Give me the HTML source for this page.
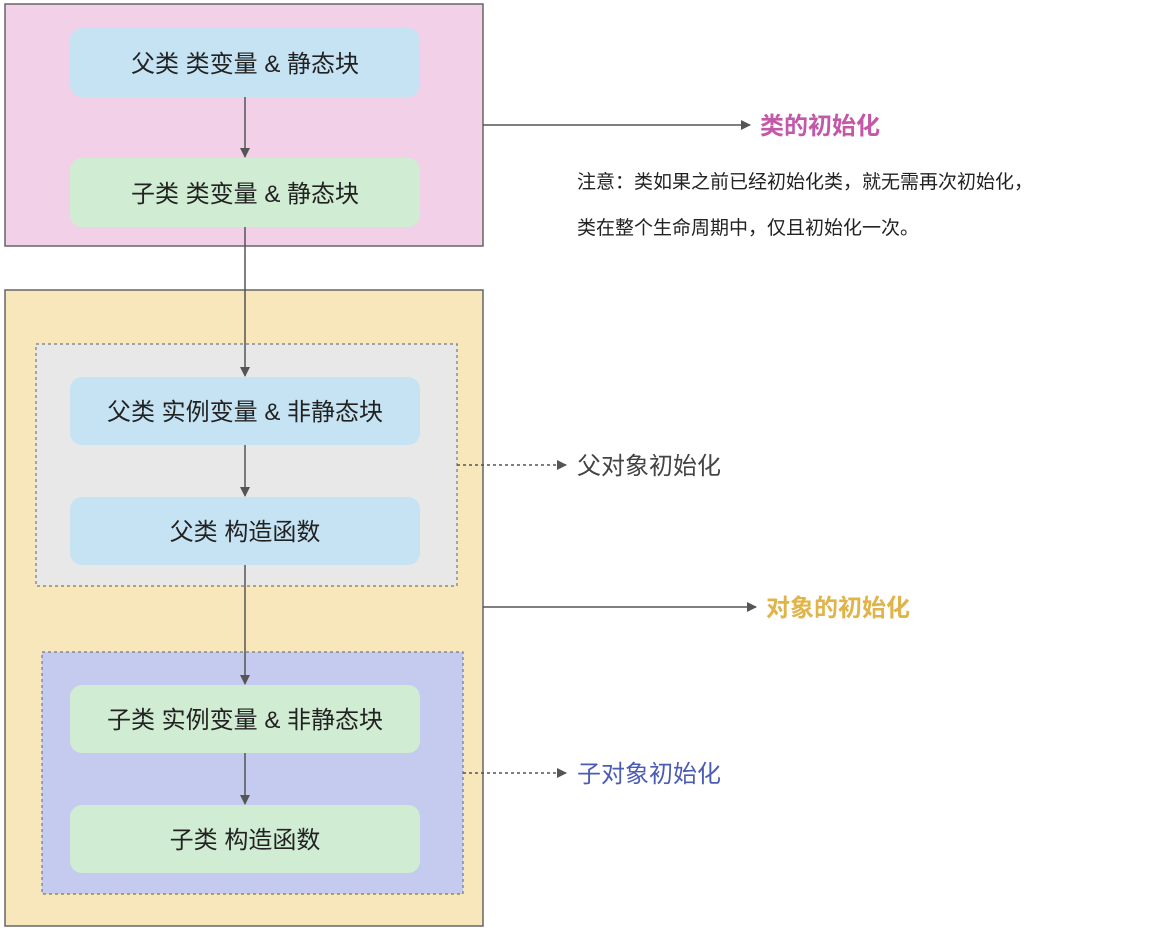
<!DOCTYPE html>
<html><head><meta charset="utf-8"><style>
html,body{margin:0;padding:0;background:#fff;}
svg text{font-family:"Liberation Sans","Noto Sans CJK SC",sans-serif;}
</style></head><body>
<svg width="1159" height="930" viewBox="0 0 1159 930" xmlns="http://www.w3.org/2000/svg">
<defs>
<marker id="a" markerWidth="10" markerHeight="10" refX="9" refY="5" orient="auto" markerUnits="userSpaceOnUse"><path d="M0,0 L10,5 L0,10 z" fill="#555"/></marker>
</defs>
<rect x="5" y="4" width="478" height="242" fill="#f2d0e8" stroke="#666" stroke-width="1.5"/>
<rect x="5" y="290" width="478" height="636" fill="#f7e7ba" stroke="#666" stroke-width="1.5"/>
<rect x="36" y="344" width="421" height="242" fill="#e8e8e8" stroke="#777" stroke-width="1.2" stroke-dasharray="3,3"/>
<rect x="42" y="652" width="421" height="242" fill="#c4cbee" stroke="#777" stroke-width="1.2" stroke-dasharray="3,3"/>
<g font-size="24" fill="#222" text-anchor="middle">
<rect x="70" y="28" width="350" height="69" rx="12" fill="#c6e3f4"/>
<text x="245" y="72">父类 类变量 &amp; 静态块</text>
<rect x="70" y="158" width="350" height="69" rx="12" fill="#d0ecd2"/>
<text x="245" y="202">子类 类变量 &amp; 静态块</text>
<rect x="70" y="377" width="350" height="68" rx="12" fill="#c6e3f4"/>
<text x="245" y="420">父类 实例变量 &amp; 非静态块</text>
<rect x="70" y="497" width="350" height="68" rx="12" fill="#c6e3f4"/>
<text x="245" y="540">父类 构造函数</text>
<rect x="70" y="685" width="350" height="68" rx="12" fill="#d0ecd2"/>
<text x="245" y="728">子类 实例变量 &amp; 非静态块</text>
<rect x="70" y="805" width="350" height="68" rx="12" fill="#d0ecd2"/>
<text x="245" y="848">子类 构造函数</text>
</g>
<g stroke="#555" stroke-width="1.5" fill="none">
<line x1="245" y1="97" x2="245" y2="157" marker-end="url(#a)"/>
<line x1="245" y1="227" x2="245" y2="376" marker-end="url(#a)"/>
<line x1="245" y1="445" x2="245" y2="496" marker-end="url(#a)"/>
<line x1="245" y1="565" x2="245" y2="684" marker-end="url(#a)"/>
<line x1="245" y1="753" x2="245" y2="804" marker-end="url(#a)"/>
<line x1="483" y1="125" x2="750" y2="125" marker-end="url(#a)"/>
<line x1="483" y1="607" x2="756" y2="607" marker-end="url(#a)"/>
<line x1="457" y1="465" x2="566" y2="465" stroke-dasharray="3,3" marker-end="url(#a)"/>
<line x1="463" y1="773" x2="566" y2="773" stroke-dasharray="3,3" marker-end="url(#a)"/>
</g>
<text x="760" y="134" font-size="24" font-weight="bold" fill="#c458a8">类的初始化</text>
<text x="577" y="188" font-size="19" fill="#222">注意：类如果之前已经初始化类，就无需再次初始化，</text>
<text x="577" y="234" font-size="19" fill="#222">类在整个生命周期中，仅且初始化一次。</text>
<text x="577" y="474" font-size="24" fill="#444">父对象初始化</text>
<text x="766" y="616" font-size="24" font-weight="bold" fill="#e0b448">对象的初始化</text>
<text x="577" y="782" font-size="24" fill="#4a5cb4">子对象初始化</text>
</svg>
</body></html>
